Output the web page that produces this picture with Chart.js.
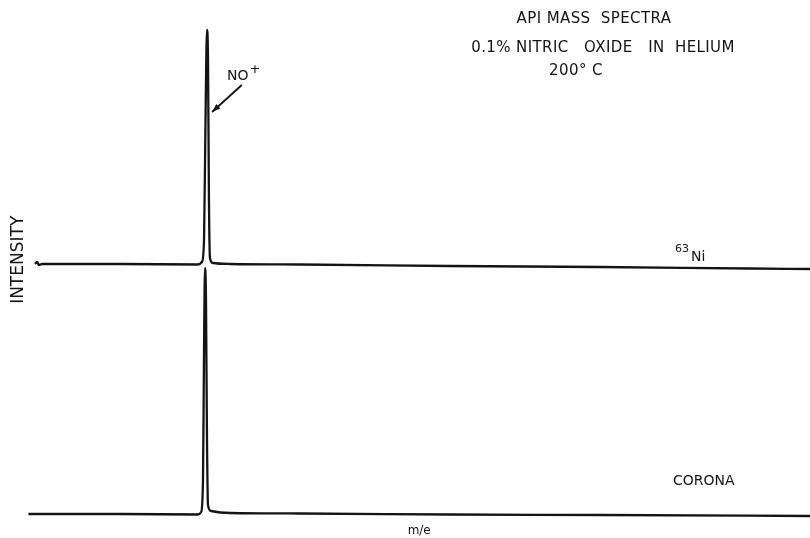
<!DOCTYPE html>
<html>
<head>
<meta charset="utf-8">
<title>API mass spectra</title>
<script src="https://cdn.jsdelivr.net/npm/chart.js@4.4.1/dist/chart.umd.min.js"></script>
<style>
  html, body { margin: 0; padding: 0; background: #fff; }
  #wrap { position: relative; width: 810px; height: 538px; }
</style>
</head>
<body>
<div id="wrap"><canvas id="c"></canvas></div>
<script>
// m/e in arbitrary units (0..100 across the plot), intensity relative (peak ~1)
var niMz  = [0.85, 1.1, 1.35, 1.75, 11.7, 21.7, 22.2, 22.47, 22.66, 22.85, 22.98, 23.1, 23.23, 23.6, 25.8, 34.75, 53.9, 73.1, 92.3, 100];
var niInt = [0.02, 0.028, 0.016, 0.02, 0.02, 0.018, 0.028, 0.116, 0.596, 0.956, 0.836, 0.276, 0.044, 0.024, 0.02, 0.018, 0.012, 0.008, 0.002, 0.0];
var NI_OFFSET = 0.988;   // 63Ni trace is drawn above the corona trace

var coronaMz  = [0, 11.7, 21.7, 22.1, 22.34, 22.47, 22.6, 22.72, 22.85, 22.98, 23.36, 25.8, 34.75, 53.9, 73.1, 100];
var coronaInt = [0.008, 0.008, 0.006, 0.016, 0.144, 0.664, 0.992, 0.864, 0.304, 0.044, 0.02, 0.012, 0.01, 0.006, 0.004, 0.0];

var titleLines = ['API MASS  SPECTRA', '0.1% NITRIC   OXIDE   IN  HELIUM', '200\u00B0 C'];
var INK = '#141414';
var FONT = '"DejaVu Sans", "Liberation Sans", sans-serif';

function pts(xs, ys, off) {
  return xs.map(function (x, i) { return { x: x, y: ys[i] + off }; });
}

function trace(label, data) {
  return {
    label: label,
    data: data,
    borderColor: INK,
    backgroundColor: INK,
    borderWidth: 2.3,
    pointRadius: 0,
    fill: false,
    clip: false,
    cubicInterpolationMode: 'monotone'
  };
}

// text labels and the NO+ arrow
var notes = {
  id: 'notes',
  afterDatasetsDraw: function (chart) {
    var ctx = chart.ctx, xs = chart.scales.x, ys = chart.scales.y;
    ctx.save();
    ctx.fillStyle = INK;
    ctx.strokeStyle = INK;
    ctx.textBaseline = 'middle';

    // title block, top right
    ctx.font = '15px ' + FONT;
    ctx.textAlign = 'center';
    ctx.letterSpacing = '0.4px';
    ctx.fillText(titleLines[0], 594, 19);
    ctx.fillText(titleLines[1], 603, 48);
    ctx.fillText(titleLines[2], 576, 71);
    ctx.letterSpacing = '0px';

    // NO+ label with arrow pointing at the 63Ni peak
    ctx.textAlign = 'left';
    ctx.font = '14px ' + FONT;
    var lx = xs.getPixelForValue(25.4), ly = ys.getPixelForValue(1.76);
    ctx.fillText('NO', lx, ly);
    var w = ctx.measureText('NO').width;
    ctx.font = '13px ' + FONT;
    ctx.fillText('+', lx + w + 1, ly - 6);

    var x0 = xs.getPixelForValue(27.3), y0 = ys.getPixelForValue(1.724);
    var x1 = xs.getPixelForValue(23.5), y1 = ys.getPixelForValue(1.616);
    ctx.lineWidth = 1.8;
    ctx.beginPath();
    ctx.moveTo(x0, y0);
    ctx.lineTo(x1, y1);
    ctx.stroke();
    var a = Math.atan2(y1 - y0, x1 - x0);
    ctx.beginPath();
    ctx.moveTo(x1, y1);
    ctx.lineTo(x1 - 9 * Math.cos(a - 0.35), y1 - 9 * Math.sin(a - 0.35));
    ctx.lineTo(x1 - 9 * Math.cos(a + 0.35), y1 - 9 * Math.sin(a + 0.35));
    ctx.closePath();
    ctx.fill();

    // trace labels
    ctx.font = '11px ' + FONT;
    ctx.fillText('63', 675, 249);
    ctx.font = '14px ' + FONT;
    ctx.fillText('Ni', 691, 257);
    ctx.fillText('CORONA', 673, 481);
    ctx.restore();
  }
};

new Chart(document.getElementById('c'), {
  type: 'line',
  data: {
    datasets: [
      trace('63Ni', pts(niMz, niInt, NI_OFFSET)),
      trace('CORONA', pts(coronaMz, coronaInt, 0))
    ]
  },
  options: {
    responsive: true,
    maintainAspectRatio: false,
    animation: false,
    layout: { padding: 0 },
    plugins: { legend: { display: false }, tooltip: { enabled: false } },
    scales: {
      x: {
        type: 'linear', min: 0, max: 100,
        grid: { display: false, drawTicks: false }, border: { display: false },
        ticks: { display: false },
        title: { display: true, text: 'm/e', color: INK, font: { family: FONT, size: 12 }, padding: { top: 4, bottom: 0 } }
      },
      y: {
        min: -0.0144, max: 2.064,
        grid: { display: false, drawTicks: false }, border: { display: false },
        ticks: { display: false },
        title: { display: true, text: 'INTENSITY', color: INK, font: { family: FONT, size: 17 }, padding: { top: 8, bottom: 0 } }
      }
    }
  },
  plugins: [notes]
});
</script>
</body>
</html>
